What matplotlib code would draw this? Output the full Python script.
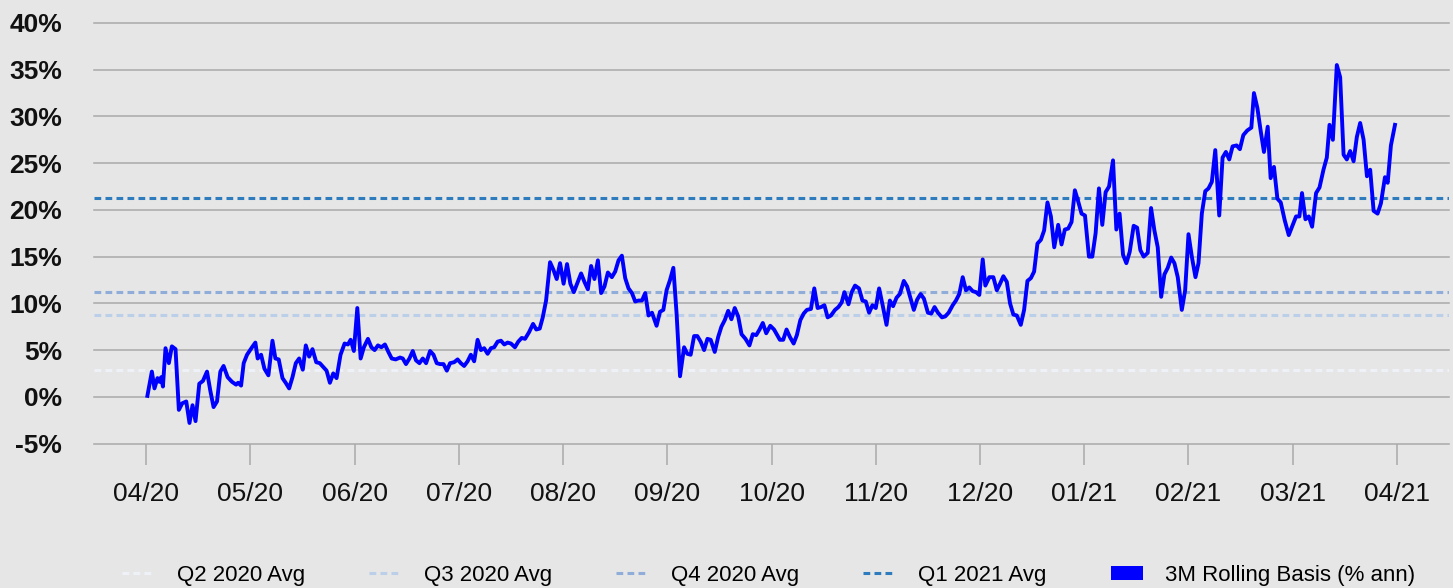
import numpy as np
import matplotlib.pyplot as plt
from matplotlib.patches import Patch
from matplotlib.lines import Line2D

plt.rcParams['font.family'] = ['Liberation Sans', 'DejaVu Sans']

# ---- data (x = months since 04/20, y = % annualised) ----
month_labels = ['04/20', '05/20', '06/20', '07/20', '08/20', '09/20', '10/20',
                '11/20', '12/20', '01/21', '02/21', '03/21', '04/21']

t = [0.012, 0.055, 0.080, 0.109, 0.128, 0.144, 0.161, 0.186, 0.218, 0.247,
     0.282, 0.314, 0.346, 0.385, 0.416, 0.445, 0.474, 0.510, 0.545, 0.584,
     0.615, 0.647, 0.680, 0.712, 0.743, 0.782, 0.824, 0.863, 0.882, 0.911,
     0.936, 0.968, 1.016, 1.048, 1.070, 1.103, 1.135, 1.173, 1.212, 1.240,
     1.272, 1.308, 1.339, 1.372, 1.404, 1.436, 1.468, 1.503, 1.532, 1.564,
     1.596, 1.632, 1.666, 1.699, 1.731, 1.763, 1.795, 1.827, 1.865, 1.904,
     1.936, 1.962, 1.993, 2.026, 2.058, 2.089, 2.128, 2.161, 2.192, 2.224,
     2.257, 2.291, 2.324, 2.356, 2.394, 2.436, 2.462, 2.493, 2.526, 2.558,
     2.589, 2.622, 2.654, 2.686, 2.724, 2.757, 2.788, 2.820, 2.853, 2.885,
     2.916, 2.955, 2.988, 3.019, 3.051, 3.084, 3.115, 3.147, 3.180, 3.212,
     3.243, 3.276, 3.308, 3.339, 3.372, 3.404, 3.436, 3.468, 3.500, 3.538,
     3.570, 3.603, 3.635, 3.673, 3.712, 3.743, 3.776, 3.805, 3.837, 3.875,
     3.907, 3.939, 3.971, 4.005, 4.038, 4.070, 4.103, 4.141, 4.173, 4.205,
     4.238, 4.269, 4.301, 4.334, 4.365, 4.397, 4.430, 4.468, 4.500, 4.532,
     4.564, 4.596, 4.628, 4.661, 4.692, 4.724, 4.757, 4.788, 4.820, 4.853,
     4.897, 4.930, 4.962, 4.993, 5.026, 5.058, 5.089, 5.122, 5.161, 5.192,
     5.224, 5.257, 5.288, 5.320, 5.353, 5.385, 5.416, 5.455, 5.488, 5.519,
     5.551, 5.584, 5.615, 5.647, 5.680, 5.712, 5.750, 5.788, 5.820, 5.853,
     5.885, 5.916, 5.949, 5.988, 6.024, 6.080, 6.112, 6.144, 6.176, 6.212,
     6.243, 6.276, 6.308, 6.339, 6.378, 6.410, 6.442, 6.474, 6.507, 6.538,
     6.570, 6.609, 6.641, 6.673, 6.699, 6.738, 6.769, 6.801, 6.839, 6.872,
     6.904, 6.936, 6.968, 7.000, 7.032, 7.064, 7.103, 7.135, 7.166, 7.199,
     7.231, 7.269, 7.301, 7.334, 7.365, 7.397, 7.430, 7.462, 7.500, 7.532,
     7.564, 7.596, 7.635, 7.666, 7.699, 7.738, 7.769, 7.801, 7.834, 7.865,
     7.897, 7.930, 7.962, 7.993, 8.026, 8.051, 8.089, 8.128, 8.161, 8.192,
     8.224, 8.257, 8.288, 8.320, 8.353, 8.391, 8.423, 8.455, 8.488, 8.519,
     8.551, 8.584, 8.615, 8.647, 8.680, 8.712, 8.750, 8.782, 8.814, 8.846,
     8.878, 8.910, 8.942, 8.974, 9.007, 9.045, 9.077, 9.109, 9.141, 9.173,
     9.205, 9.238, 9.276, 9.308, 9.339, 9.372, 9.404, 9.436, 9.474, 9.507,
     9.538, 9.570, 9.609, 9.641, 9.673, 9.705, 9.738, 9.769, 9.801, 9.834,
     9.865, 9.897, 9.936, 9.968, 10.000, 10.032, 10.067, 10.096, 10.128, 10.161,
     10.192, 10.224, 10.257, 10.295, 10.327, 10.359, 10.391, 10.423, 10.462, 10.493,
     10.526, 10.564, 10.603, 10.628, 10.661, 10.692, 10.724, 10.760, 10.788, 10.820,
     10.853, 10.885, 10.923, 10.962, 11.000, 11.032, 11.064, 11.089, 11.122, 11.154,
     11.186, 11.224, 11.257, 11.295, 11.327, 11.353, 11.385, 11.423, 11.455, 11.488,
     11.519, 11.551, 11.584, 11.615, 11.647, 11.680, 11.712, 11.743, 11.776, 11.814,
     11.846, 11.885, 11.911, 11.942, 11.981]

basis = [0.1, 2.7, 0.9, 2.0, 1.6, 2.1, 1.1, 5.2, 3.6, 5.4,
         5.1, -1.4, -0.7, -0.5, -2.8, -0.9, -2.6, 1.4, 1.7, 2.7,
         0.7, -1.1, -0.5, 2.7, 3.3, 2.1, 1.6, 1.3, 1.5, 1.2,
         3.6, 4.5, 5.3, 5.8, 4.1, 4.5, 3.0, 2.3, 6.0, 4.1,
         4.0, 2.0, 1.5, 0.9, 2.1, 3.6, 4.1, 2.9, 5.5, 4.3,
         5.1, 3.7, 3.6, 3.2, 2.8, 1.5, 2.5, 2.0, 4.5, 5.7,
         5.6, 6.1, 4.9, 9.5, 4.1, 5.3, 6.2, 5.3, 5.0, 5.5,
         5.3, 5.6, 4.8, 4.1, 4.0, 4.2, 4.1, 3.5, 4.1, 4.9,
         3.9, 3.6, 4.1, 3.6, 4.9, 4.5, 3.6, 3.5, 3.5, 2.8,
         3.6, 3.7, 4.0, 3.6, 3.3, 3.8, 4.5, 3.8, 6.1, 5.0,
         5.2, 4.6, 5.2, 5.3, 5.9, 6.0, 5.6, 5.8, 5.7, 5.3,
         5.9, 6.3, 6.2, 6.9, 7.8, 7.2, 7.3, 8.5, 10.3, 14.4,
         13.6, 12.6, 14.3, 12.1, 14.2, 12.1, 11.2, 12.3, 13.2, 12.3,
         11.5, 14.0, 12.6, 14.6, 11.1, 11.8, 13.3, 12.8, 13.4, 14.6,
         15.1, 12.7, 11.6, 11.1, 10.2, 10.3, 10.3, 11.1, 8.7, 9.0,
         7.6, 9.1, 9.3, 11.4, 12.5, 13.8, 8.9, 2.2, 5.3, 4.6,
         4.5, 6.5, 6.5, 5.9, 5.0, 6.2, 6.1, 4.8, 6.4, 7.5,
         8.2, 9.2, 8.3, 9.5, 8.6, 6.7, 6.2, 5.5, 6.7, 6.6,
         7.2, 7.9, 6.8, 7.6, 7.2, 6.1, 6.1, 7.2, 6.4, 5.7,
         6.6, 8.2, 8.9, 9.3, 9.4, 11.6, 9.5, 9.6, 9.8, 8.5,
         8.7, 9.3, 9.6, 10.1, 11.2, 9.9, 11.2, 11.9, 11.6, 10.3,
         10.2, 9.0, 9.8, 9.5, 11.6, 9.9, 7.7, 10.3, 9.7, 10.6,
         11.0, 12.4, 11.8, 10.5, 9.3, 10.4, 11.0, 10.5, 9.0, 8.9,
         9.6, 9.0, 8.5, 8.6, 9.0, 9.8, 10.3, 11.0, 12.8, 11.4,
         11.7, 11.3, 11.2, 10.9, 14.7, 11.9, 12.8, 12.8, 11.4, 12.1,
         12.9, 12.3, 10.0, 8.8, 8.7, 7.7, 9.3, 12.4, 12.7, 13.4,
         16.4, 16.8, 17.8, 20.8, 19.3, 16.0, 18.4, 16.3, 17.9, 18.0,
         18.7, 22.1, 20.9, 19.6, 19.4, 15.0, 15.0, 17.5, 22.3, 18.4,
         21.9, 22.5, 25.3, 17.9, 19.6, 15.2, 14.3, 15.5, 18.3, 18.1,
         15.7, 15.0, 15.4, 20.2, 17.8, 16.0, 10.7, 13.1, 13.8, 14.9,
         14.3, 12.8, 9.3, 11.4, 17.4, 15.0, 12.8, 14.3, 19.6, 22.0,
         22.3, 23.0, 26.4, 19.4, 25.6, 26.2, 25.4, 26.8, 26.9, 26.5,
         28.0, 28.5, 28.8, 32.5, 30.9, 28.5, 26.2, 28.9, 23.4, 24.6,
         21.2, 20.8, 18.9, 17.3, 18.4, 19.3, 19.3, 21.8, 19.0, 19.3,
         18.2, 21.8, 22.4, 24.3, 25.6, 29.1, 27.5, 35.5, 34.2, 25.9,
         25.4, 26.3, 25.2, 27.8, 29.3, 27.5, 23.6, 24.3, 19.9, 19.6,
         20.7, 23.5, 22.9, 26.9, 29.1]

avg_names = ['Q2 2020 Avg', 'Q3 2020 Avg', 'Q4 2020 Avg', 'Q1 2021 Avg']
avg_values = [2.9, 8.7, 11.2, 21.3]
avg_colors = ['#eef2f8', '#bccfe9', '#8fadd8', '#2e7bbd']

bg = '#e6e6e6'

fig = plt.figure(figsize=(14.53, 5.88), dpi=100, facecolor=bg)
ax = fig.add_axes([0.0647, 0.2457, 0.9326, 0.7152], facecolor=bg)

# 网格线
for v in range(-5, 41, 5):
    ax.axhline(v, color='#a9a9a9', lw=1.1, zorder=1, clip_on=False)

# 季度均值
for name, val, col in zip(avg_names, avg_values, avg_colors):
    ax.axhline(val, color=col, lw=2.2, ls=(0, (2.2, 1.4)), zorder=2)

ax.plot(t, basis, color='#0000ff', lw=2.8, zorder=3)

ax.set_xlim(-0.5, 12.5)
ax.set_ylim(-5, 40)
ax.set_xticks(range(len(month_labels)))
ax.set_xticklabels(month_labels, fontsize=19, color='#111111')
ax.set_yticks(range(-5, 41, 5))
ax.set_yticklabels([f'{v}%' for v in range(-5, 41, 5)], fontsize=19,
                   fontweight='bold', color='#111111')
ax.tick_params(axis='x', length=15, width=1.1, color='#a9a9a9', pad=13)
ax.tick_params(axis='y', length=0, pad=23)
for s in ax.spines.values():
    s.set_visible(False)

handles = [Line2D([], [], color=c, lw=2.2, ls=(0, (2.2, 1.4))) for c in avg_colors]
handles.append(Patch(facecolor='#0000ff', edgecolor='none'))
labels = avg_names + ['3M Rolling Basis (% ann)']
fig.legend(handles, labels, loc='center', bbox_to_anchor=(0.529, 0.022),
           ncol=5, frameon=False, fontsize=16, handlelength=1.45,
           handletextpad=1.0, columnspacing=2.9, handleheight=0.6)

fig.savefig('out.png', dpi=100, facecolor=bg)
